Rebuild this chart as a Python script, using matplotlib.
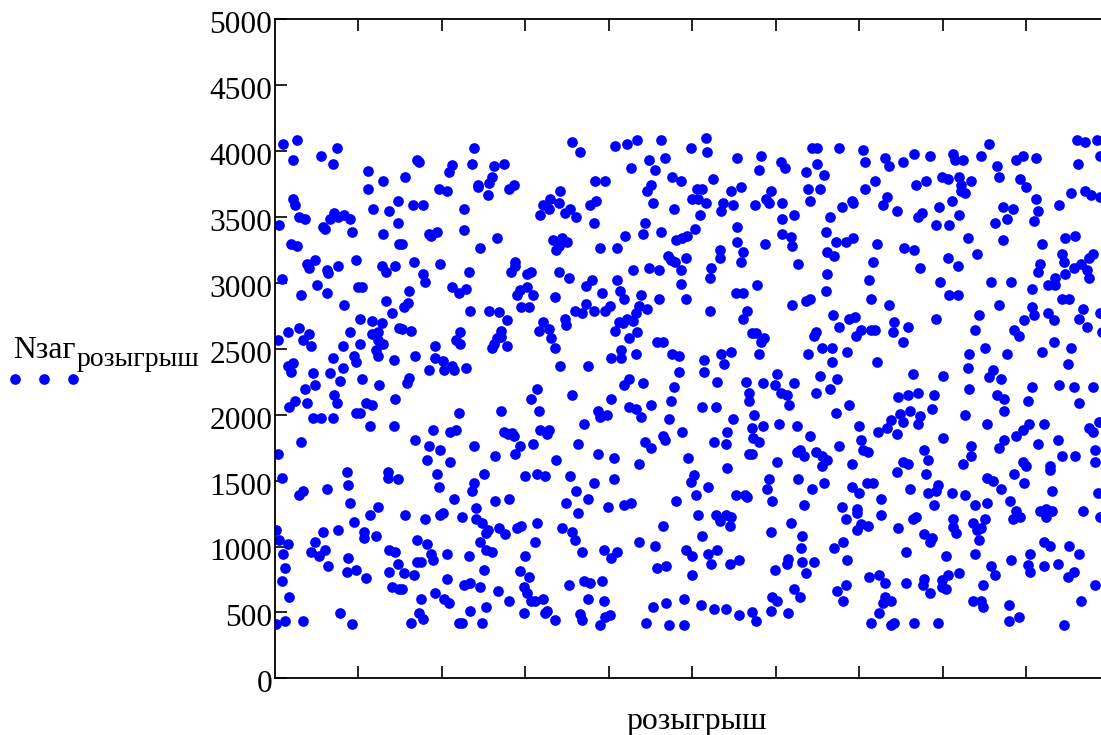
# Scatter of N_zag per draw
import matplotlib
matplotlib.use("Agg")
import matplotlib.pyplot as plt
from matplotlib.lines import Line2D
from matplotlib.transforms import ScaledTranslation

# (draw, N) pairs, one list per part of the plot
points_left_top = [
    (10,4053),(26,4081),(22,3932),(55,3965),(74,4023),(69,3904),(111,3846),(130,3770),(111,3709),(22,3636),
    (24,3591),(118,3560),(137,3548),(147,3621),(29,3502),(36,3487),(5,3441),(57,3426),(60,3411),(66,3487),
    (71,3532),(76,3502),(83,3517),(90,3487),(92,3383),(130,3368),(147,3457),(19,3292),(26,3280),(149,3292),
    (97,3173),(48,3173),(38,3143),(41,3115),(62,3100),(64,3072),(76,3130),(128,3130),(133,3085),(144,3130),
    (8,3027),(50,2981),(62,2920),(31,2908),(100,2966),(104,2966),(83,2834),(133,2862),(140,2774),(102,2728),
    (116,2713),(128,2698),(123,2625),(116,2609),(149,2655),(29,2655),(15,2625),(41,2609),(34,2566),(3,2566),
    (43,2521),(90,2625),(81,2521),(102,2536),(123,2566),(130,2536),(121,2491),(123,2445),(95,2445),(97,2402),
    (69,2432),(142,2417),(15,2372),(22,2389),(81,2356),
]
points_left_bottom = [
    (19,2326),(45,2314),(66,2314),(78,2256),(104,2268),(125,2225),(48,2225),(36,2195),(71,2149),(74,2089),
    (38,2089),(24,2106),(17,2061),(109,2089),(116,2074),(144,2119),(45,1972),(55,1972),(69,1972),(97,2015),
    (102,2015),(114,1912),(142,1912),(31,1793),(3,1704),(86,1568),(135,1568),(135,1522),(147,1510),(8,1522),
    (88,1464),(34,1419),(29,1391),(62,1434),(90,1330),(123,1302),(114,1241),(95,1183),(76,1123),(57,1107),
    (107,1107),(107,1062),(121,1077),(1,1123),(5,1049),(15,1019),(48,1034),(10,943),(43,958),(53,930),
    (60,973),(137,973),(144,958),(88,915),(147,870),(12,839),(64,855),(86,809),(97,824),(137,809),
    (8,736),(109,758),(140,690),(149,677),(17,617),(78,498),(12,437),(34,437),(1,409),(92,409),
]
points_middle_top = [
    (238,4024),(356,4069),(366,3993),(408,4041),(422,4054),(434,4084),(462,4084),(498,4024),(516,4099),(518,3993),
    (554,3950),(170,3933),(172,3920),(212,3897),(208,3844),(236,3905),(262,3889),(274,3905),(448,3935),(467,3950),
    (427,3874),(455,3859),(156,3801),(476,3801),(486,3771),(525,3786),(384,3771),(396,3771),(260,3801),(257,3755),
    (243,3740),(243,3725),(196,3710),(206,3695),(286,3740),(281,3710),(255,3664),(342,3695),(450,3740),(446,3695),
    (506,3710),(512,3710),(547,3695),(559,3725),(330,3637),(321,3591),(328,3561),(340,3606),(385,3621),(378,3591),
    (500,3637),(507,3637),(516,3606),(453,3606),(537,3606),(549,3591),(165,3591),(177,3591),(227,3561),(354,3561),
    (347,3530),(318,3515),(361,3500),(478,3561),(535,3546),(509,3515),(382,3457),(443,3457),(503,3412),(554,3427),
    (227,3399),(194,3384),(184,3369),(187,3353),(462,3384),(441,3369),(420,3353),(494,3353),(488,3338),(481,3323),
    (333,3323),(344,3338),(350,3308),(340,3278),(337,3247),(266,3338),(554,3308),(152,3293),(246,3262),(389,3262),
    (410,3262),(533,3247),(561,3232),(471,3204),(493,3189),(474,3174),(479,3159),(533,3189),(288,3159),(166,3159),
    (198,3143),(559,3159),(287,3128),(283,3085),(429,3100),(448,3116),(460,3100),(486,3100),(523,3116),(232,3085),
    (177,3070),(340,3085),(307,3085),(302,3070),(352,3040),(521,3040),(380,3025),(410,3025),(180,3009),(373,2979),
    (486,2994),(212,2966),(229,2951),(220,2921),(161,2936),(302,2971),(294,2946),(290,2906),(309,2906),(413,2936),
    (392,2921),(439,2906),(335,2891),(418,2875),(460,2875),(493,2875),(552,2921),(561,2921),(159,2845),(154,2815),
    (373,2837),(401,2822),(295,2815),(304,2815),(436,2822),(234,2787),(257,2787),(269,2777),(359,2787),(368,2772),
    (382,2787),(396,2787),(446,2802),(432,2772),(521,2787),(566,2787),(561,2726),(278,2716),(347,2726),(349,2681),
    (321,2703),(422,2726),(412,2703),(429,2711),(417,2696),(152,2653),(163,2638),(222,2630),(316,2638),(328,2653),
    (408,2638),(434,2625),(271,2638),(271,2592),(217,2567),(222,2534),(266,2580),(331,2580),(424,2580),(458,2549),
    (465,2549),(262,2534),(260,2504),(278,2519),(192,2519),(335,2504),(415,2491),(535,2461),(547,2476),(168,2445),
    (432,2461),(476,2461),(484,2445),(403,2430),(415,2430),(514,2415),(192,2430),(201,2408),(212,2370),(203,2339),
    (215,2339),(229,2357),(538,2385),(184,2342),(342,2370),(375,2370),(484,2327),(514,2327),(161,2281),(158,2238),
    (424,2268),(418,2225),(441,2238),(530,2251),(564,2251),
]
points_middle_bottom = [
    (314,2195),(478,2212),(307,2119),(356,2149),(568,2162),(403,2119),(474,2104),(568,2104),(424,2061),(432,2045),
    (450,2076),(512,2061),(528,2061),(220,2015),(271,2028),(316,2028),(387,2030),(389,1985),(398,2000),(439,1985),
    (472,1970),(549,1970),(370,1927),(189,1881),(210,1866),(217,1881),(274,1866),(279,1851),(284,1858),(286,1836),
    (318,1881),(328,1881),(326,1851),(488,1866),(542,1866),(465,1836),(467,1805),(168,1805),(443,1793),(526,1793),
    (540,1777),(309,1777),(363,1777),(184,1762),(238,1762),(293,1762),(198,1732),(450,1747),(288,1702),(387,1702),
    (568,1702),(264,1686),(406,1671),(495,1671),(337,1659),(182,1659),(210,1643),(436,1628),(542,1598),(250,1552),
    (194,1552),(300,1537),(314,1552),(323,1537),(354,1537),(502,1542),(498,1492),(406,1509),(239,1479),(382,1479),
    (196,1449),(236,1418),(361,1418),(519,1449),(505,1390),(552,1390),(563,1390),(566,1375),(215,1360),(264,1345),
    (281,1360),(375,1360),(349,1330),(481,1345),(399,1299),(418,1315),(427,1330),(241,1289),(156,1241),(180,1211),
    (198,1241),(201,1256),(224,1226),(241,1211),(248,1181),(363,1256),(507,1241),(528,1241),(540,1241),(547,1226),
    (533,1196),(314,1181),(255,1122),(253,1105),(269,1138),(276,1092),(290,1138),(295,1153),(344,1138),(356,1107),
    (465,1153),(545,1153),(512,1077),(170,1047),(182,1019),(246,1034),(312,1034),(359,1047),(436,1031),(455,1004),
    (253,973),(260,958),(187,943),(206,943),(232,928),(300,928),(368,958),(394,973),(410,958),(403,912),
    (493,973),(500,928),(519,943),(530,973),(189,897),(170,885),(175,885),(523,870),(545,870),(556,900),
    (458,839),(469,854),(250,824),(293,811),(154,796),(166,781),(304,766),(500,781),(206,751),(234,723),
    (227,708),(246,690),(352,705),(370,735),(378,720),(392,735),(298,690),(302,644),(152,675),(267,662),
    (192,644),(203,601),(208,571),(175,601),(281,589),(307,589),(312,589),(321,601),(375,601),(394,589),
    (453,541),(469,571),(490,601),(510,556),(526,528),(540,528),(556,483),(253,541),(234,513),(173,498),
    (298,498),(326,513),(323,498),(366,485),(401,483),(396,467),(177,452),(335,440),(368,440),(163,422),
    (220,422),(224,422),(248,422),(389,407),(444,422),(472,407),(490,407),
]
points_right_top = [
    (961,4084),(971,4069),(985,4084),(855,4054),(643,4024),(650,4024),(676,4024),(705,4008),(582,3965),(766,3981),
    (785,3965),(813,3981),(846,3965),(896,3965),(888,3935),(912,3950),(989,3965),(731,3950),(606,3920),(707,3920),
    (752,3920),(815,3935),(825,3935),(611,3874),(650,3905),(736,3889),(865,3889),(962,3905),(580,3859),(636,3844),
    (658,3816),(799,3801),(806,3786),(820,3801),(867,3801),(893,3786),(719,3771),(780,3771),(834,3771),(768,3740),
    (822,3740),(900,3725),(594,3695),(639,3710),(653,3710),(707,3710),(822,3697),(827,3682),(954,3682),(971,3697),
    (978,3667),(989,3652),(588,3637),(592,3606),(575,3591),(608,3606),(641,3621),(691,3621),(693,3606),(733,3652),
    (728,3591),(811,3621),(912,3637),(679,3578),(796,3578),(872,3578),(884,3563),(940,3591),(745,3548),(775,3533),
    (771,3503),(914,3548),(622,3518),(608,3487),(665,3503),(820,3518),(877,3487),(910,3472),(792,3442),(808,3442),
    (863,3457),(660,3384),(608,3369),(618,3346),(620,3278),(587,3293),(693,3338),(684,3308),(672,3308),(721,3293),
    (830,3338),(872,3323),(947,3338),(959,3353),(919,3293),(754,3262),(766,3250),(662,3235),(670,3204),(841,3219),
    (943,3219),(806,3189),(627,3143),(716,3159),(917,3143),(945,3159),(818,3128),(773,3116),(980,3219),(976,3189),
    (966,3143),(957,3116),(973,3100),(914,3085),(947,3070),(662,3070),(976,3040),(935,3040),(712,3025),(797,3009),
    (858,3009),(882,3009),(926,2982),(935,2982),(578,2982),(907,2951),(660,2936),(808,2906),(818,2906),(641,2878),
    (636,2863),(714,2878),(943,2878),(952,2878),(620,2832),(736,2832),(867,2832),(907,2817),(968,2802),(910,2757),
    (926,2774),(669,2757),(695,2744),(688,2726),(844,2759),(792,2726),(964,2726),(989,2774),(898,2716),(933,2716),
    (742,2701),(676,2668),(759,2668),(973,2668),(702,2640),(719,2640),(714,2640),(839,2640),(886,2640),(648,2625),
    (646,2595),(740,2625),(696,2595),(891,2595),(576,2617),(572,2617),(586,2580),(582,2549),(752,2549),(933,2549),
    (655,2506),(667,2506),(851,2506),(954,2506),(580,2461),(639,2461),(686,2476),(832,2461),(877,2461),(919,2476),
    (667,2400),(721,2400),(950,2385),(830,2357),(860,2342),(856,2284),(870,2268),(601,2311),(653,2296),(764,2311),
    (801,2296),(674,2268),(585,2238),(991,2628),
]
points_right_bottom = [
    (599,2225),(622,2238),(665,2195),(648,2164),(606,2164),(613,2149),(688,2076),(616,2076),(672,2015),(747,2134),
    (759,2149),(771,2164),(790,2149),(787,2045),(761,2030),(749,2005),(773,1990),(832,2195),(865,2149),(874,2119),
    (907,2210),(940,2223),(957,2210),(980,2210),(902,2104),(964,2088),(874,2030),(827,2000),(574,2000),(738,1957),
    (752,1942),(771,1927),(733,1896),(723,1866),(745,1851),(604,1927),(625,1911),(585,1911),(700,1911),(853,1927),
    (903,1927),(922,1927),(896,1881),(888,1836),(988,1942),(976,1896),(980,1866),(641,1836),(801,1820),(874,1805),
    (938,1805),(914,1777),(702,1805),(571,1896),(573,1820),(580,1793),(676,1762),(834,1762),(867,1747),(778,1732),
    (705,1732),(710,1717),(629,1732),(625,1717),(634,1686),(648,1717),(655,1686),(662,1656),(983,1732),(943,1686),
    (959,1686),(834,1686),(783,1656),(601,1643),(571,1702),(691,1628),(655,1613),(752,1643),(759,1628),(825,1628),
    (896,1643),(900,1613),(983,1643),(929,1613),(929,1583),(745,1568),(780,1552),(886,1552),(592,1509),(627,1509),
    (853,1522),(860,1494),(898,1479),(658,1479),(709,1479),(716,1479),(691,1449),(589,1433),(644,1433),(700,1403),
    (794,1464),(792,1418),(782,1403),(761,1433),(870,1436),(811,1403),(827,1388),(931,1421),(986,1403),(726,1360),
    (596,1345),(881,1345),(839,1315),(853,1330),(634,1315),(790,1315),(679,1299),(698,1284),(698,1254),(888,1272),
    (917,1272),(924,1284),(931,1272),(726,1241),(684,1211),(884,1211),(893,1226),(924,1226),(968,1272),(989,1226),
    (768,1226),(764,1211),(813,1211),(851,1211),(618,1181),(837,1181),(702,1170),(710,1155),(698,1122),(813,1150),
    (747,1138),(846,1138),(841,1122),(816,1105),(594,1107),(632,1077),(778,1092),(787,1062),(785,1031),(844,1047),
    (921,1031),(929,1004),(952,1004),(681,1031),(630,988),(670,988),(756,958),(839,945),(804,928),(905,943),
    (964,943),(686,900),(615,905),(613,870),(632,885),(646,885),(882,900),(902,862),(921,854),(938,870),
    (858,854),(599,824),(905,809),(957,809),(636,796),(724,781),(712,766),(806,781),(820,796),(863,781),
    (950,771),(799,746),(778,751),(731,720),(756,720),(776,705),(684,705),(848,705),(983,708),(622,675),
    (799,690),(804,675),(674,662),(785,647),(596,617),(601,586),(629,617),(731,617),(738,586),(728,571),
    (681,586),(836,586),(846,586),(848,541),(879,556),(966,586),(594,513),(615,498),(571,500),(724,498),
    (576,437),(891,467),(879,437),(714,422),(742,422),(738,407),(766,422),(794,422),(945,407),
]

y_ticks = [0, 500, 1000, 1500, 2000, 2500, 3000, 3500, 4000, 4500, 5000]
x_ticks = [100, 200, 300, 400, 500, 600, 700, 800, 900]
x_label = "розыгрыш"
y_label_main = "Nзаг"

W, H = 1101, 735
plt.rcParams["font.family"] = ["Liberation Serif", "DejaVu Serif"]

fig = plt.figure(figsize=(W / 100, H / 100), dpi=100)
ax = fig.add_axes([275 / W, 1 - 678.3 / H, (W - 275 + 1) / W, (678.3 - 19.3) / H])

all_points = (points_left_top + points_left_bottom + points_middle_top
              + points_middle_bottom + points_right_top + points_right_bottom)
draws = [p[0] for p in all_points]
n_zag = [p[1] for p in all_points]
ax.plot(draws, n_zag, linestyle="none", marker="o", markersize=7.7,
        markerfacecolor="#0000FF", markeredgecolor="none")

ax.set_xlim(0, 991)
ax.set_ylim(0, 5000)
ax.set_yticks(y_ticks)
ax.set_xticks(x_ticks)
ax.set_xticklabels([])
ax.tick_params(axis="both", direction="in", length=8.6, width=1.2, top=True, right=False, labelsize=22.6, pad=2)
for side in ["left", "top", "bottom"]:
    ax.spines[side].set_linewidth(1.3)
ax.spines["right"].set_visible(False)

# tick numbers sit a bit below their ticks in the original
shift_down = ScaledTranslation(0, -3 / 100, fig.dpi_scale_trans)
for lab in ax.get_yticklabels():
    lab.set_transform(lab.get_transform() + shift_down)

fig.text(697 / W, 1 - 721 / H, x_label, fontsize=22.9, ha="center", va="center")
fig.text(13 / W, 1 - 358 / H, y_label_main, fontsize=22.8, ha="left", va="baseline")
fig.text(77 / W, 1 - 366 / H, x_label, fontsize=20, ha="left", va="baseline")

# little legend dots under the y title
for px in [14.6, 44, 73]:
    fig.add_artist(Line2D([px / W], [1 - 379.3 / H], transform=fig.transFigure, linestyle="none",
                          marker="o", markersize=7.7, markerfacecolor="#0000FF", markeredgecolor="none"))

fig.savefig("out.png", dpi=100)
